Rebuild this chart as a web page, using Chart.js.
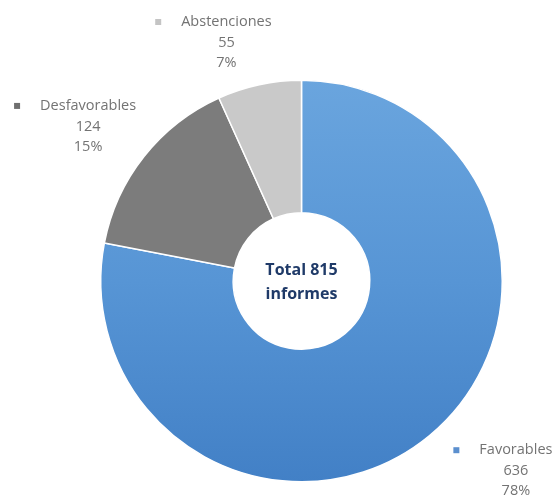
<!DOCTYPE html>
<html>
<head>
<meta charset="utf-8">
<script src="https://cdn.jsdelivr.net/npm/chart.js@4/dist/chart.umd.min.js"></script>
<style>
  html, body { margin: 0; padding: 0; background: #ffffff; }
  #wrap { width: 555px; height: 500px; position: relative; }
</style>
</head>
<body>
<div id="wrap"><canvas id="c" width="555" height="500"></canvas></div>
<script>
const categories = ["Favorables", "Desfavorables", "Abstenciones"];
const values = [636, 124, 55];
const centerLines = ["Total", "informes"];

const sliceColors = ["#5b9bd5", "#7c7c7c", "#c9c9c9"];
const markerColors = ["#5b8fce", "#6f6f6f", "#c4c4c4"];
// label anchor as fraction of outer radius relative to chart center
const labelAnchors = [[1.068, 0.945], [-1.063, -0.770], [-0.374, -1.188]];

const total = values.reduce((a, b) => a + b, 0);

function blueGradient(ctx) {
  const chart = ctx.chart;
  const area = chart.chartArea;
  if (!area) return sliceColors[0];
  const g = chart.ctx.createLinearGradient(0, area.top, 0, area.bottom);
  g.addColorStop(0, "#6aa5de");
  g.addColorStop(0.5, "#5795d5");
  g.addColorStop(1, "#4280c6");
  return g;
}

const labelPlugin = {
  id: "sliceLabels",
  afterDraw(chart) {
    const ctx = chart.ctx;
    const meta = chart.getDatasetMeta(0);
    const arc0 = meta.data[0];
    const cx = arc0.x, cy = arc0.y, r = arc0.outerRadius;
    ctx.save();
    ctx.textAlign = "center";
    ctx.textBaseline = "middle";
    const lh = 20.5;
    categories.forEach((cat, i) => {
      const ax = cx + labelAnchors[i][0] * r;
      const ay = cy + labelAnchors[i][1] * r;
      const pct = Math.round(values[i] / total * 100) + "%";
      const lines = [cat, String(values[i]), pct];
      ctx.font = "14.5px 'Open Sans'";
      ctx.fillStyle = "#737373";
      lines.forEach((t, k) => ctx.fillText(t, ax, ay + (k - 1) * lh));
      const w = ctx.measureText(cat).width;
      ctx.fillStyle = markerColors[i];
      const mx = ax - w / 2 - 23;
      ctx.fillRect(mx - 3, ay - lh - 3, 6, 6);
    });
    // center text
    ctx.font = "bold 16px 'Open Sans'";
    ctx.fillStyle = "#1f3a68";
    ctx.fillText(centerLines[0] + " " + total, cx, cy - 11);
    ctx.fillText(centerLines[1], cx, cy + 13);
    ctx.restore();
  }
};

new Chart(document.getElementById("c"), {
  type: "doughnut",
  data: {
    labels: categories,
    datasets: [{
      data: values,
      backgroundColor: (ctx) => ctx.dataIndex === 0 ? blueGradient(ctx) : sliceColors[ctx.dataIndex],
      borderColor: "#ffffff",
      borderWidth: 1.5,
      hoverOffset: 0
    }]
  },
  options: {
    responsive: false,
    animation: false,
    cutout: "34%",
    layout: { padding: { top: 79, bottom: 17, left: 100, right: 52 } },
    plugins: {
      legend: { display: false },
      tooltip: { enabled: false }
    }
  },
  plugins: [labelPlugin]
});
</script>
</body>
</html>
